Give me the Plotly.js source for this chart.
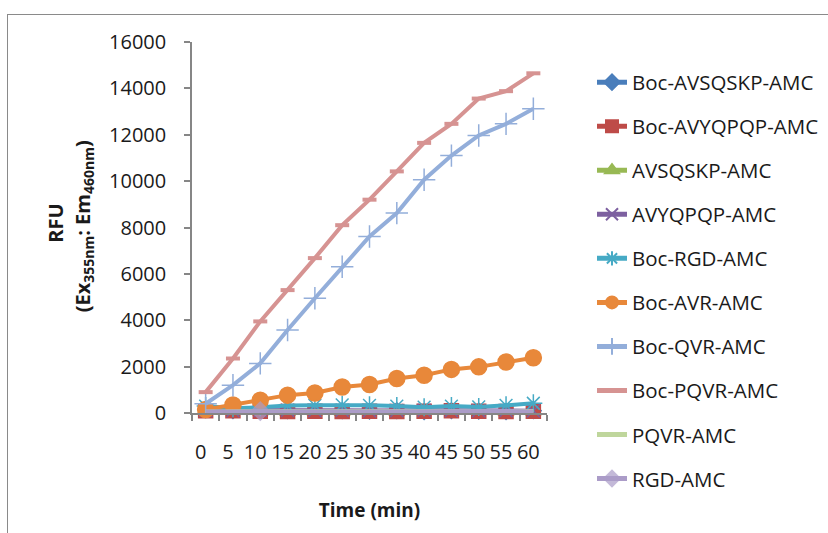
<!DOCTYPE html>
<html>
<head>
<meta charset="utf-8">
<script src="https://cdn.plot.ly/plotly-3.0.1.min.js"></script>
<style>
  html, body { margin: 0; padding: 0; background: #fff; overflow: hidden; }
  #frame { position: absolute; left: 7px; top: 14px; width: 900px; height: 600px;
           border-left: 1.5px solid #8a8a8a; border-top: 1.5px solid #8a8a8a; }
  #chart { position: absolute; left: 0; top: 0; width: 828px; height: 533px; }
</style>
</head>
<body>
<div id="frame"></div>
<div id="chart"></div>
<script>
// Categories (time, min)
const timeMin = ['0','5','10','15','20','25','30','35','40','45','50','55','60'];

// Series values (RFU)
const bocAVSQSKP = [150, 100, 120, 100, -230, 100, 80, 100, 60, 100, 80, 60, 100];
const bocAVYQPQP = [100, 100, 80, 60, 80, 60, 80, 60, 80, 100, 80, 60, 80];
const avsqskp    = [100, -200, 80, 60, 80, 60, -200, 60, -200, 100, -200, 60, 80];
const avyqpqp    = [120, 100, 110, 120, 110, 120, 100, 110, 120, 110, 100, 110, 100];
const bocRGD     = [300, 200, 250, 320, 330, 350, 330, 300, 250, 300, 260, 330, 420];
const bocAVR     = [150, 350, 550, 770, 860, 1120, 1230, 1490, 1630, 1880, 1990, 2200, 2380];
const bocQVR     = [400, 1200, 2140, 3580, 4950, 6310, 7610, 8620, 10060, 11100, 11970, 12470, 13120];
const bocPQVR    = [900, 2350, 3950, 5300, 6680, 8100, 9200, 10420, 11650, 12470, 13560, 13880, 14650];
const pqvr       = [70, 70, 80, 70, 80, 90, 80, 70, 80, 70, 80, 70, 90];
const rgd        = [60, 70, 80, 70, 60, 70, 60, 70, 60, 70, 80, 90, 70];

const names = ['Boc-AVSQSKP-AMC','Boc-AVYQPQP-AMC','AVSQSKP-AMC','AVYQPQP-AMC','Boc-RGD-AMC',
               'Boc-AVR-AMC','Boc-QVR-AMC','Boc-PQVR-AMC','PQVR-AMC','RGD-AMC'];

const rgdMarkerSizes = timeMin.map((t, i) => i === 2 ? 14 : 0);

function tr(rank, y, color, symbol, size, extra) {
  const t = {
    x: timeMin, y: y, name: names[rank - 1], type: 'scatter', mode: 'lines+markers',
    legendrank: rank, legendgroup: 'g' + rank, cliponaxis: false,
    line: { color: color, width: 4 },
    marker: { color: color, symbol: symbol, size: size, line: { color: color, width: 1.5 } }
  };
  return Object.assign(t, extra || {});
}

const data = [
  tr(3, avsqskp, '#98B954', 'triangle-up', 14),
  tr(1, bocAVSQSKP, '#4A7EBB', 'diamond', 12),
  tr(2, bocAVYQPQP, '#BE4B48', 'square', 14),
  tr(4, avyqpqp, '#7D60A0', 'x-thin-open', 13),
  tr(5, bocRGD, '#46AAC5', 'asterisk-open', 15),
  tr(6, bocAVR, '#E8883A', 'circle', 16),
  tr(7, bocQVR, '#93AEDA', 'cross-thin-open', 16),
  tr(8, bocPQVR, '#D69392', 'line-ew-open', 10),
  tr(9, pqvr, '#BFD69C', 'circle', 0, { mode: 'lines' }),
  tr(10, rgd, '#AB9CC8', 'diamond', 14)
];
data[7].marker.line.width = 4;
data[9].marker.size = rgdMarkerSizes;

const axisColor = '#868686';
const layout = {
  width: 828, height: 533,
  margin: { l: 192, r: 281, t: 42, b: 120, pad: 0, autoexpand: false },
  paper_bgcolor: 'rgba(0,0,0,0)', plot_bgcolor: 'rgba(0,0,0,0)',
  font: { family: 'Open Sans, sans-serif', color: '#1a1a1a' },
  showlegend: true,
  legend: {
    x: (592 - 192) / 355, xanchor: 'left', y: (412.7 - 62) / 371, yanchor: 'top',
    font: { size: 20.5, color: '#1a1a1a' }, tracegroupgap: 14.4, itemsizing: 'constant',
    bgcolor: 'rgba(0,0,0,0)', maxheight: 520
  },
  xaxis: {
    type: 'category', range: [-0.5, 12.5], autorange: false,
    showgrid: false, zeroline: false,
    showline: true, linecolor: axisColor, linewidth: 1.5,
    ticks: 'outside', tickson: 'boundaries', ticklen: 6, tickcolor: axisColor, tickwidth: 1.5,
    tickangle: 0,
    tickfont: { size: 20, color: '#1a1a1a' }, ticklabelstandoff: 20, ticklabelshift: -5,
    title: { text: '<b>Time (min)</b>', font: { size: 19 }, standoff: 40 }
  },
  yaxis: {
    range: [0, 16000], autorange: false, dtick: 2000, tickformat: 'd', showgrid: false, zeroline: false,
    showline: true, linecolor: axisColor, linewidth: 1.5,
    ticks: 'outside', ticklen: 6, tickcolor: axisColor, tickwidth: 1.5,
    tickfont: { size: 20, color: '#1a1a1a' }, ticklabelstandoff: 14
  },
  annotations: [
    { text: '<b>RFU</b>', xref: 'paper', yref: 'paper', x: (56 - 192) / 355, y: (412.7 - 223.5) / 371,
      xanchor: 'center', yanchor: 'middle', textangle: -90, showarrow: false,
      font: { size: 20, color: '#1a1a1a' } },
    { text: '<b>(Ex<sub>355nm</sub>: Em<sub>460nm</sub>)</b>', xref: 'paper', yref: 'paper',
      x: (83 - 192) / 355, y: (412.7 - 226) / 371,
      xanchor: 'center', yanchor: 'middle', textangle: -90, showarrow: false,
      font: { size: 20, color: '#1a1a1a' } }
  ]
};

Plotly.newPlot('chart', data, layout, { displayModeBar: false, responsive: false });
</script>
</body>
</html>
